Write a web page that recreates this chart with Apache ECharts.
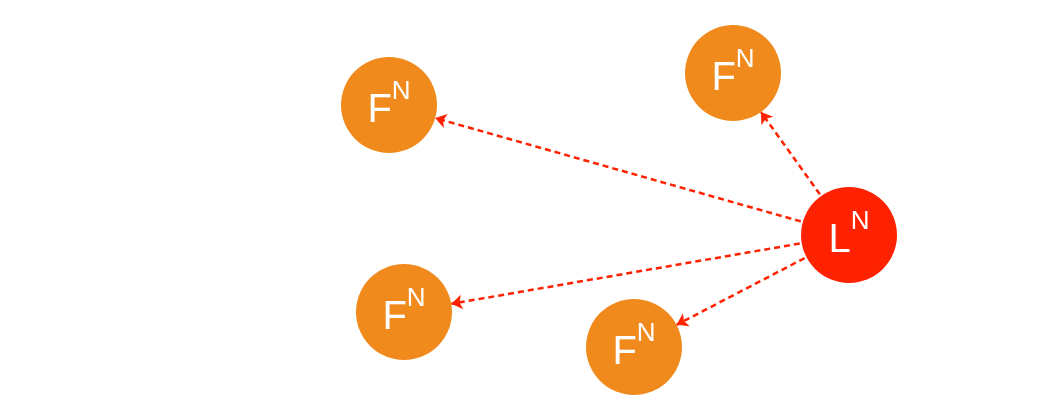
<!DOCTYPE html>
<html>
<head>
<meta charset="utf-8">
<script src="https://cdn.jsdelivr.net/npm/echarts@6/dist/echarts.min.js"></script>
<style>html,body{margin:0;padding:0;background:#fff}#chart{width:1059px;height:416px}</style>
</head>
<body>
<div id="chart"></div>
<script>
// node names, letters and positions (pixel space of the picture)
const nodeNames = ['L', 'F1', 'F2', 'F3', 'F4'];
const nodeLetters = ['L', 'F', 'F', 'F', 'F'];
const nodeX = [849, 389, 733, 404, 634];
const nodeY = [235, 105, 73, 312, 347];
const edgeTargets = ['F1', 'F2', 'F3', 'F4'];

const nodes = nodeNames.map((name, i) => ({
  name,
  value: [nodeX[i], nodeY[i]],
  itemStyle: { color: nodeLetters[i] === 'L' ? '#ff2200' : '#f08a1d' },
  label: { formatter: `{b|${nodeLetters[i]}}{s|N}` }
}));

const links = edgeTargets.map((t) => ({ source: 'L', target: t }));

const chart = echarts.init(document.getElementById('chart'));
chart.setOption({
  animation: false,
  grid: { left: 0, right: 0, top: 0, bottom: 0 },
  xAxis: { type: 'value', min: 0, max: 1059, show: false },
  yAxis: { type: 'value', min: 0, max: 416, inverse: true, show: false },
  series: [{
    type: 'graph',
    coordinateSystem: 'cartesian2d',
    symbolSize: 96,
    data: nodes,
    links,
    edgeSymbol: ['none', 'arrow'],
    edgeSymbolSize: 11,
    lineStyle: { color: '#ff2200', width: 2.5, type: [6, 4], opacity: 1, curveness: 0 },
    label: {
      show: true,
      position: 'inside',
      color: '#fff',
      fontFamily: 'Liberation Sans, Arial, sans-serif',
      rich: {
        b: { fontSize: 40, color: '#fff', verticalAlign: 'bottom', padding: [12, 0, 0, 0] },
        s: { fontSize: 26, color: '#fff', verticalAlign: 'top', padding: [0, 0, 20, 0] }
      }
    }
  }]
});
window.addEventListener('resize', () => chart.resize());
</script>
</body>
</html>
